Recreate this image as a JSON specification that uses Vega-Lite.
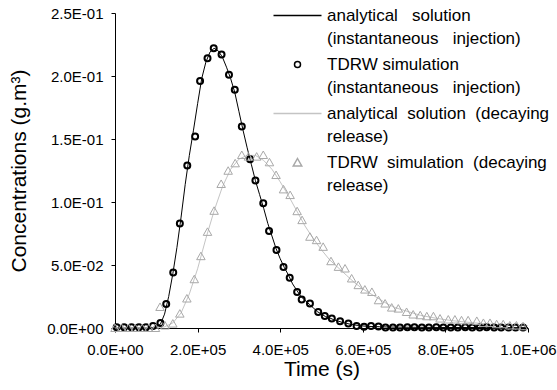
{
  "$schema": "https://vega.github.io/schema/vega-lite/v6.json",
  "width": 413,
  "height": 315,
  "autosize": {"type": "none"},
  "padding": {"left": 115, "top": 13, "right": 29, "bottom": 62},
  "background": "white",
  "config": {
    "view": {"stroke": null},
    "font": "Liberation Sans",
    "axis": {
      "grid": false,
      "domainColor": "#000000",
      "tickColor": "#000000",
      "labelColor": "#000000",
      "titleColor": "#000000",
      "labelFont": "Liberation Sans",
      "titleFont": "Liberation Sans",
      "labelFontSize": 15,
      "titleFontSize": 21,
      "titleFontWeight": "normal",
      "tickSize": 4,
      "domainWidth": 1,
      "tickWidth": 1,
      "labelOverlap": false,
      "labelFlush": false
    }
  },
  "datasets": {
    "lines": [
      {"t": 0, "c": 0, "s": "A"}, {"t": 10000, "c": 0, "s": "A"}, {"t": 20000, "c": 0, "s": "A"}, {"t": 30000, "c": 0, "s": "A"},
      {"t": 40000, "c": 0, "s": "A"}, {"t": 50000, "c": 0, "s": "A"}, {"t": 60000, "c": 0, "s": "A"}, {"t": 70000, "c": 0, "s": "A"},
      {"t": 80000, "c": 0, "s": "A"}, {"t": 90000, "c": 0.0003, "s": "A"}, {"t": 100000, "c": 0.001, "s": "A"}, {"t": 110000, "c": 0.003, "s": "A"},
      {"t": 120000, "c": 0.011, "s": "A"}, {"t": 130000, "c": 0.025, "s": "A"}, {"t": 140000, "c": 0.043, "s": "A"}, {"t": 150000, "c": 0.064, "s": "A"},
      {"t": 160000, "c": 0.088, "s": "A"}, {"t": 170000, "c": 0.114, "s": "A"}, {"t": 180000, "c": 0.137, "s": "A"}, {"t": 190000, "c": 0.157, "s": "A"},
      {"t": 200000, "c": 0.178, "s": "A"}, {"t": 210000, "c": 0.198, "s": "A"}, {"t": 220000, "c": 0.211, "s": "A"}, {"t": 230000, "c": 0.219, "s": "A"},
      {"t": 240000, "c": 0.222, "s": "A"}, {"t": 250000, "c": 0.22, "s": "A"}, {"t": 260000, "c": 0.215, "s": "A"}, {"t": 270000, "c": 0.207, "s": "A"},
      {"t": 280000, "c": 0.198, "s": "A"}, {"t": 290000, "c": 0.187, "s": "A"}, {"t": 300000, "c": 0.172, "s": "A"}, {"t": 310000, "c": 0.157, "s": "A"},
      {"t": 320000, "c": 0.143, "s": "A"}, {"t": 330000, "c": 0.13, "s": "A"}, {"t": 340000, "c": 0.117, "s": "A"}, {"t": 350000, "c": 0.106, "s": "A"},
      {"t": 360000, "c": 0.095, "s": "A"}, {"t": 370000, "c": 0.083, "s": "A"}, {"t": 380000, "c": 0.073, "s": "A"}, {"t": 390000, "c": 0.063, "s": "A"},
      {"t": 400000, "c": 0.055, "s": "A"}, {"t": 410000, "c": 0.048, "s": "A"}, {"t": 420000, "c": 0.042, "s": "A"}, {"t": 430000, "c": 0.035, "s": "A"},
      {"t": 440000, "c": 0.03, "s": "A"}, {"t": 450000, "c": 0.025, "s": "A"}, {"t": 460000, "c": 0.022, "s": "A"}, {"t": 470000, "c": 0.019, "s": "A"},
      {"t": 480000, "c": 0.016, "s": "A"}, {"t": 490000, "c": 0.013, "s": "A"}, {"t": 500000, "c": 0.011, "s": "A"}, {"t": 510000, "c": 0.009, "s": "A"},
      {"t": 520000, "c": 0.008, "s": "A"}, {"t": 530000, "c": 0.0065, "s": "A"}, {"t": 540000, "c": 0.0055, "s": "A"}, {"t": 550000, "c": 0.0045, "s": "A"},
      {"t": 560000, "c": 0.0037, "s": "A"}, {"t": 570000, "c": 0.003, "s": "A"}, {"t": 580000, "c": 0.0024, "s": "A"}, {"t": 590000, "c": 0.002, "s": "A"},
      {"t": 600000, "c": 0.0016, "s": "A"}, {"t": 620000, "c": 0.0012, "s": "A"}, {"t": 640000, "c": 0.001, "s": "A"}, {"t": 660000, "c": 0.0008, "s": "A"},
      {"t": 700000, "c": 0.0006, "s": "A"}, {"t": 750000, "c": 0.0005, "s": "A"}, {"t": 800000, "c": 0.0004, "s": "A"}, {"t": 850000, "c": 0.0004, "s": "A"},
      {"t": 900000, "c": 0.0003, "s": "A"}, {"t": 950000, "c": 0.0003, "s": "A"}, {"t": 1000000, "c": 0.0003, "s": "A"},
      {"t": 0, "c": 0, "s": "C"}, {"t": 20000, "c": 0, "s": "C"}, {"t": 40000, "c": 0, "s": "C"}, {"t": 60000, "c": 0, "s": "C"},
      {"t": 80000, "c": 0, "s": "C"}, {"t": 100000, "c": 0, "s": "C"}, {"t": 120000, "c": 0.001, "s": "C"}, {"t": 140000, "c": 0.004, "s": "C"},
      {"t": 160000, "c": 0.012, "s": "C"}, {"t": 180000, "c": 0.027, "s": "C"}, {"t": 200000, "c": 0.047, "s": "C"}, {"t": 220000, "c": 0.071, "s": "C"},
      {"t": 240000, "c": 0.093, "s": "C"}, {"t": 260000, "c": 0.112, "s": "C"}, {"t": 280000, "c": 0.126, "s": "C"}, {"t": 300000, "c": 0.134, "s": "C"},
      {"t": 320000, "c": 0.137, "s": "C"}, {"t": 340000, "c": 0.137, "s": "C"}, {"t": 360000, "c": 0.133, "s": "C"}, {"t": 380000, "c": 0.126, "s": "C"},
      {"t": 400000, "c": 0.116, "s": "C"}, {"t": 420000, "c": 0.105, "s": "C"}, {"t": 440000, "c": 0.093, "s": "C"}, {"t": 460000, "c": 0.081, "s": "C"},
      {"t": 480000, "c": 0.071, "s": "C"}, {"t": 500000, "c": 0.062, "s": "C"}, {"t": 520000, "c": 0.054, "s": "C"}, {"t": 540000, "c": 0.048, "s": "C"},
      {"t": 560000, "c": 0.042, "s": "C"}, {"t": 580000, "c": 0.036, "s": "C"}, {"t": 600000, "c": 0.031, "s": "C"}, {"t": 620000, "c": 0.027, "s": "C"},
      {"t": 640000, "c": 0.023, "s": "C"}, {"t": 660000, "c": 0.019, "s": "C"}, {"t": 680000, "c": 0.016, "s": "C"}, {"t": 700000, "c": 0.014, "s": "C"},
      {"t": 720000, "c": 0.012, "s": "C"}, {"t": 740000, "c": 0.01, "s": "C"}, {"t": 760000, "c": 0.0088, "s": "C"}, {"t": 780000, "c": 0.0076, "s": "C"},
      {"t": 800000, "c": 0.0066, "s": "C"}, {"t": 820000, "c": 0.0057, "s": "C"}, {"t": 840000, "c": 0.005, "s": "C"}, {"t": 860000, "c": 0.0044, "s": "C"},
      {"t": 880000, "c": 0.0038, "s": "C"}, {"t": 900000, "c": 0.0033, "s": "C"}, {"t": 920000, "c": 0.0029, "s": "C"}, {"t": 940000, "c": 0.0025, "s": "C"},
      {"t": 960000, "c": 0.0022, "s": "C"}, {"t": 980000, "c": 0.0019, "s": "C"}, {"t": 1000000, "c": 0.0016, "s": "C"}
    ],
    "points": [
      {"t": 4000, "c": 0.0005, "s": "B"}, {"t": 22000, "c": 0.0005, "s": "B"}, {"t": 40000, "c": 0.0005, "s": "B"}, {"t": 58000, "c": 0.0005, "s": "B"},
      {"t": 75000, "c": 0.0005, "s": "B"}, {"t": 92000, "c": 0.0015, "s": "B"}, {"t": 110000, "c": 0.004, "s": "B"}, {"t": 124000, "c": 0.019, "s": "B"},
      {"t": 141000, "c": 0.044, "s": "B"}, {"t": 157000, "c": 0.083, "s": "B"}, {"t": 175000, "c": 0.129, "s": "B"}, {"t": 194000, "c": 0.152, "s": "B"},
      {"t": 206000, "c": 0.196, "s": "B"}, {"t": 224000, "c": 0.214, "s": "B"}, {"t": 239000, "c": 0.222, "s": "B"}, {"t": 258000, "c": 0.217, "s": "B"},
      {"t": 276000, "c": 0.201, "s": "B"}, {"t": 290000, "c": 0.189, "s": "B"}, {"t": 307000, "c": 0.16, "s": "B"}, {"t": 327000, "c": 0.134, "s": "B"},
      {"t": 340000, "c": 0.117, "s": "B"}, {"t": 359000, "c": 0.099, "s": "B"}, {"t": 373000, "c": 0.077, "s": "B"}, {"t": 391000, "c": 0.062, "s": "B"},
      {"t": 408000, "c": 0.0485, "s": "B"}, {"t": 423000, "c": 0.0398, "s": "B"}, {"t": 441000, "c": 0.0286, "s": "B"}, {"t": 452000, "c": 0.0226, "s": "B"},
      {"t": 472000, "c": 0.0194, "s": "B"}, {"t": 492000, "c": 0.0127, "s": "B"}, {"t": 508000, "c": 0.0095, "s": "B"}, {"t": 525000, "c": 0.0075, "s": "B"},
      {"t": 545000, "c": 0.0053, "s": "B"}, {"t": 565000, "c": 0.0035, "s": "B"}, {"t": 585000, "c": 0.0016, "s": "B"}, {"t": 603000, "c": 0.001, "s": "B"},
      {"t": 620000, "c": 0.0015, "s": "B"}, {"t": 638000, "c": 0.0012, "s": "B"}, {"t": 655000, "c": 0.0003, "s": "B"}, {"t": 673000, "c": 0.0004, "s": "B"},
      {"t": 690000, "c": 0.0003, "s": "B"}, {"t": 708000, "c": 0.0005, "s": "B"}, {"t": 725000, "c": 0.0006, "s": "B"}, {"t": 743000, "c": 0.0003, "s": "B"},
      {"t": 760000, "c": 0.0004, "s": "B"}, {"t": 778000, "c": 0.0005, "s": "B"}, {"t": 795000, "c": 0.0003, "s": "B"}, {"t": 813000, "c": 0.0004, "s": "B"},
      {"t": 830000, "c": 0.0003, "s": "B"}, {"t": 848000, "c": 0.0005, "s": "B"}, {"t": 865000, "c": 0.0003, "s": "B"}, {"t": 883000, "c": 0.0004, "s": "B"},
      {"t": 900000, "c": 0.0005, "s": "B"}, {"t": 918000, "c": 0.0003, "s": "B"}, {"t": 935000, "c": 0.0004, "s": "B"}, {"t": 953000, "c": 0.0004, "s": "B"},
      {"t": 970000, "c": 0.0003, "s": "B"}, {"t": 988000, "c": 0.0004, "s": "B"},
      {"t": 0, "c": 0, "s": "D"}, {"t": 16000, "c": 0, "s": "D"}, {"t": 33000, "c": 0, "s": "D"}, {"t": 49000, "c": 0, "s": "D"},
      {"t": 66000, "c": 0, "s": "D"}, {"t": 82000, "c": 0, "s": "D"}, {"t": 98000, "c": 0, "s": "D"}, {"t": 109000, "c": 0.0167, "s": "D"},
      {"t": 121000, "c": 0.002, "s": "D"}, {"t": 140000, "c": 0.0035, "s": "D"}, {"t": 157000, "c": 0.0114, "s": "D"}, {"t": 174000, "c": 0.0234, "s": "D"},
      {"t": 192000, "c": 0.0387, "s": "D"}, {"t": 208000, "c": 0.057, "s": "D"}, {"t": 224000, "c": 0.0763, "s": "D"}, {"t": 240000, "c": 0.093, "s": "D"},
      {"t": 257000, "c": 0.1143, "s": "D"}, {"t": 274000, "c": 0.1248, "s": "D"}, {"t": 291000, "c": 0.1307, "s": "D"}, {"t": 307000, "c": 0.1373, "s": "D"},
      {"t": 323000, "c": 0.136, "s": "D"}, {"t": 343000, "c": 0.136, "s": "D"}, {"t": 359000, "c": 0.1373, "s": "D"}, {"t": 374000, "c": 0.1315, "s": "D"},
      {"t": 390000, "c": 0.1214, "s": "D"}, {"t": 408000, "c": 0.11, "s": "D"}, {"t": 424000, "c": 0.1055, "s": "D"}, {"t": 441000, "c": 0.0927, "s": "D"},
      {"t": 453000, "c": 0.0856, "s": "D"}, {"t": 472000, "c": 0.0724, "s": "D"}, {"t": 488000, "c": 0.0697, "s": "D"}, {"t": 504000, "c": 0.0644, "s": "D"},
      {"t": 523000, "c": 0.053, "s": "D"}, {"t": 541000, "c": 0.0485, "s": "D"}, {"t": 557000, "c": 0.0472, "s": "D"}, {"t": 573000, "c": 0.0393, "s": "D"},
      {"t": 589000, "c": 0.034, "s": "D"}, {"t": 605000, "c": 0.0305, "s": "D"}, {"t": 622000, "c": 0.0286, "s": "D"}, {"t": 638000, "c": 0.022, "s": "D"},
      {"t": 654000, "c": 0.0194, "s": "D"}, {"t": 670000, "c": 0.0162, "s": "D"}, {"t": 686000, "c": 0.0154, "s": "D"}, {"t": 706000, "c": 0.0127, "s": "D"},
      {"t": 722000, "c": 0.0107, "s": "D"}, {"t": 739000, "c": 0.0101, "s": "D"}, {"t": 755000, "c": 0.0093, "s": "D"}, {"t": 771000, "c": 0.0093, "s": "D"},
      {"t": 787000, "c": 0.0075, "s": "D"}, {"t": 807000, "c": 0.0067, "s": "D"}, {"t": 823000, "c": 0.0067, "s": "D"}, {"t": 839000, "c": 0.0061, "s": "D"},
      {"t": 855000, "c": 0.0061, "s": "D"}, {"t": 876000, "c": 0.0056, "s": "D"}, {"t": 892000, "c": 0.004, "s": "D"}, {"t": 908000, "c": 0.004, "s": "D"},
      {"t": 924000, "c": 0.003, "s": "D"}, {"t": 940000, "c": 0.003, "s": "D"}, {"t": 956000, "c": 0.002, "s": "D"}, {"t": 972000, "c": 0.002, "s": "D"},
      {"t": 988000, "c": 0.0014, "s": "D"}
    ]
  },
  "encoding": {
    "x": {
      "field": "t",
      "type": "quantitative",
      "scale": {"domain": [0, 1000000], "nice": false, "zero": false},
      "axis": {
        "values": [0, 200000, 400000, 600000, 800000, 1000000],
        "title": "Time (s)",
        "labelExpr": "replace(replace(format(datum.value, '.1e'), 'e-', 'E-0'), 'e+', 'E+0')",
        "labelPadding": 10,
        "titlePadding": 1
      }
    },
    "y": {
      "field": "c",
      "type": "quantitative",
      "scale": {"domain": [0, 0.25], "nice": false},
      "axis": {
        "values": [0, 0.05, 0.1, 0.15, 0.2, 0.25],
        "title": "Concentrations (g.m³)",
        "labelExpr": "replace(replace(format(datum.value, '.1e'), 'e-', 'E-0'), 'e+', 'E+0')",
        "labelPadding": 8,
        "titlePadding": 17
      }
    },
    "color": {
      "field": "s",
      "type": "nominal",
      "scale": {"domain": ["A", "B", "C", "D"], "range": ["#000000", "#000000", "#c4c4c4", "#a8a8a8"]},
      "legend": {
        "orient": "none",
        "legendX": 174,
        "legendY": -6,
        "title": null,
        "padding": 0,
        "labelFont": "Liberation Sans",
        "labelFontSize": 17,
        "labelColor": "#000000",
        "labelLimit": 400,
        "labelOffset": 21,
        "labelBaseline": "middle",
        "symbolSize": 100,
        "symbolStrokeWidth": 1.5,
        "rowPadding": 8,
        "labelExpr": "datum.value == 'A' ? ['analytical\u00a0\u00a0 solution', '(instantaneous\u00a0\u00a0 injection)'] : datum.value == 'B' ? ['TDRW simulation', '(instantaneous\u00a0\u00a0 injection)'] : datum.value == 'C' ? ['analytical\u00a0 solution\u00a0 (decaying', 'release)'] : ['TDRW\u00a0 simulation\u00a0 (decaying', 'release)']",
        "encode": {"labels": {"update": {"lineHeight": {"value": 23}}}}
      }
    }
  },
  "layer": [
    {
      "data": {"name": "lines"},
      "mark": {"type": "line", "strokeWidth": 1}
    },
    {
      "data": {"name": "points"},
      "transform": [{"filter": "datum.s == 'B'"}],
      "mark": {"type": "point", "filled": false, "size": 100, "strokeWidth": 2, "opacity": 1},
      "encoding": {
        "shape": {
          "field": "s",
          "type": "nominal",
          "scale": {"domain": ["A", "B", "C", "D"], "range": ["M-4.8,0L4.8,0", "M-0.6,0A0.6,0.6,0,1,0,0.6,0A0.6,0.6,0,1,0,-0.6,0Z", "M-4.8,0L4.8,0", "M0,-0.8L0.85,0.7L-0.85,0.7Z"]},
          "legend": {
            "orient": "none",
            "legendX": 174,
            "legendY": -6,
            "title": null,
            "padding": 0,
            "labelFont": "Liberation Sans",
            "labelFontSize": 17,
            "labelColor": "#000000",
            "labelLimit": 400,
            "labelOffset": 21,
            "labelBaseline": "middle",
            "symbolSize": 100,
            "symbolStrokeWidth": 1.5,
            "rowPadding": 8,
            "labelExpr": "datum.value == 'A' ? ['analytical\u00a0\u00a0 solution', '(instantaneous\u00a0\u00a0 injection)'] : datum.value == 'B' ? ['TDRW simulation', '(instantaneous\u00a0\u00a0 injection)'] : datum.value == 'C' ? ['analytical\u00a0 solution\u00a0 (decaying', 'release)'] : ['TDRW\u00a0 simulation\u00a0 (decaying', 'release)']",
            "encode": {"labels": {"update": {"lineHeight": {"value": 23}}}}
          }
        }
      }
    },
    {
      "data": {"name": "points"},
      "transform": [{"filter": "datum.s == 'D'"}],
      "mark": {"type": "point", "filled": false, "size": 100, "strokeWidth": 1, "opacity": 1},
      "encoding": {
        "shape": {"field": "s", "type": "nominal"}
      }
    }
  ]
}
